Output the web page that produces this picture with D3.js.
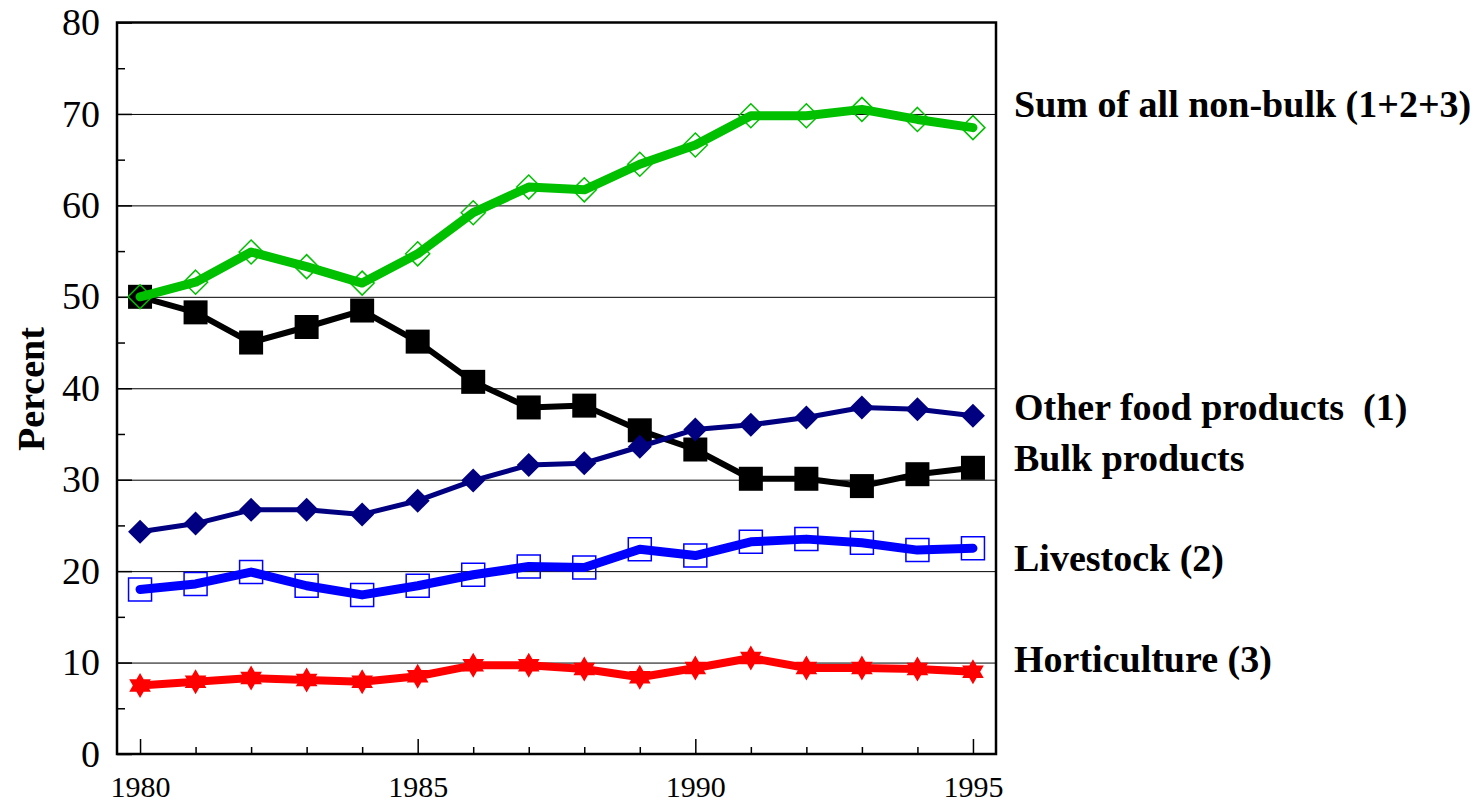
<!DOCTYPE html>
<html>
<head>
<meta charset="utf-8">
<script src="https://cdn.jsdelivr.net/npm/d3@7"></script>
<style>
  body { margin: 0; background: #fff; }
  svg { display: block; font-family: "Liberation Serif", "Times New Roman", serif; }
</style>
</head>
<body>
<svg id="chart" width="1481" height="803"></svg>
<script>
// data
const years = d3.range(1980, 1996);
const sumNonBulk = [50.0, 51.6, 54.9, 53.3, 51.5, 54.7, 59.2, 62.0, 61.7, 64.5, 66.6, 69.8, 69.8, 70.5, 69.4, 68.5];
const bulkProducts = [50.0, 48.3, 45.0, 46.7, 48.5, 45.1, 40.7, 37.9, 38.1, 35.4, 33.3, 30.1, 30.1, 29.3, 30.6, 31.3];
const otherFood = [24.3, 25.2, 26.7, 26.7, 26.2, 27.7, 29.9, 31.6, 31.8, 33.6, 35.5, 36.0, 36.8, 37.9, 37.7, 37.0];
const livestock = [18.0, 18.6, 19.9, 18.4, 17.4, 18.4, 19.6, 20.5, 20.4, 22.4, 21.7, 23.2, 23.5, 23.1, 22.3, 22.5];
const horticulture = [7.5, 7.9, 8.3, 8.1, 7.9, 8.5, 9.7, 9.7, 9.3, 8.4, 9.4, 10.5, 9.4, 9.4, 9.3, 9.0];
const labels = ['Sum of all non-bulk (1+2+3)', 'Other food products  (1)', 'Bulk products', 'Livestock (2)', 'Horticulture (3)'];
const yTicks = d3.range(0, 81, 10);
const yMinorTicks = d3.range(5, 80, 10);
const xMajorTicks = [1980, 1985, 1990, 1995];

const frame = { left: 117, right: 996, top: 22.5, bottom: 754 };

const svg = d3.select('#chart');

const x = d3.scaleLinear()
  .domain([1979.585, 1995.415])
  .range([frame.left, frame.right]);
const y = d3.scaleLinear()
  .domain([0, 80])
  .range([frame.bottom, frame.top]);

const plotW = frame.right - frame.left;

// grid lines
svg.append('g')
  .attr('transform', `translate(${frame.left},0)`)
  .call(d3.axisLeft(y).tickValues(d3.range(10, 80, 10)).tickSize(-plotW).tickFormat(''))
  .call(g => g.select('.domain').remove())
  .call(g => g.selectAll('line').attr('stroke', '#000').attr('stroke-width', 1));

// y minor ticks
svg.append('g')
  .attr('transform', `translate(${frame.left},0)`)
  .call(d3.axisLeft(y).tickValues(yMinorTicks).tickSize(-8).tickFormat(''))
  .call(g => g.select('.domain').remove())
  .call(g => g.selectAll('line').attr('stroke', '#000').attr('stroke-width', 1.5));

// y major ticks + labels
svg.append('g')
  .attr('transform', `translate(${frame.left},0)`)
  .call(d3.axisLeft(y).tickValues(yTicks).tickSize(-15).tickPadding(17))
  .call(g => g.select('.domain').remove())
  .call(g => g.selectAll('line').attr('stroke', '#000').attr('stroke-width', 1.5))
  .call(g => g.selectAll('text')
    .attr('font-family', '"Liberation Serif", serif')
    .attr('font-size', 38)
    .attr('fill', '#000'));

// x minor ticks
svg.append('g')
  .attr('transform', `translate(0,${frame.bottom})`)
  .call(d3.axisBottom(x).tickValues(years.filter(v => !xMajorTicks.includes(v))).tickSize(-7).tickFormat(''))
  .call(g => g.select('.domain').remove())
  .call(g => g.selectAll('line').attr('stroke', '#000').attr('stroke-width', 1.5));

// x major ticks + labels
svg.append('g')
  .attr('transform', `translate(0,${frame.bottom})`)
  .call(d3.axisBottom(x).tickValues(xMajorTicks).tickSize(-15).tickFormat(d3.format('d')))
  .call(g => g.select('.domain').remove())
  .call(g => g.selectAll('line').attr('stroke', '#000').attr('stroke-width', 1.5))
  .call(g => g.selectAll('text')
    .attr('y', 43)
    .attr('dy', null)
    .attr('font-family', '"Liberation Serif", serif')
    .attr('font-size', 30)
    .attr('fill', '#000'));

// frame
svg.append('rect')
  .attr('x', frame.left)
  .attr('y', frame.top)
  .attr('width', plotW)
  .attr('height', frame.bottom - frame.top)
  .attr('fill', 'none')
  .attr('stroke', '#000')
  .attr('stroke-width', 2.5);

// marker shapes
function hexagram(R) {
  const r = R / Math.sqrt(3);
  const pts = [];
  for (let k = 0; k < 12; k++) {
    const a = (-90 + k * 30) * Math.PI / 180;
    const rad = k % 2 === 0 ? R : r;
    pts.push([rad * Math.cos(a), rad * Math.sin(a)]);
  }
  return d3.line()(pts) + 'Z';
}
function diamond(h) {
  return d3.line()([[0, -h], [h, 0], [0, h], [-h, 0]]) + 'Z';
}
function square(s) {
  return d3.line()([[-s, -s], [s, -s], [s, s], [-s, s]]) + 'Z';
}

const series = [
  { values: bulkProducts, color: '#000000', width: 6, marker: square(12), fill: '#000000', mstroke: 'none' },
  { values: otherFood, color: '#000080', width: 5, marker: diamond(12), fill: '#000080', mstroke: 'none' },
  { values: livestock, color: '#0000ff', width: 9, marker: square(11.5), fill: 'none', mstroke: '#0000ff' },
  { values: horticulture, color: '#ff0000', width: 8, marker: hexagram(12.5), fill: '#ff0000', mstroke: 'none' },
  { values: sumNonBulk, color: '#00c000', width: 9, marker: diamond(12), fill: 'none', mstroke: '#00c000' },
];

const line = d3.line()
  .x((d, i) => x(years[i]))
  .y(d => y(d));

series.forEach(s => {
  const g = svg.append('g');
  g.append('path')
    .datum(s.values)
    .attr('d', line)
    .attr('fill', 'none')
    .attr('stroke', s.color)
    .attr('stroke-width', s.width)
    .attr('stroke-linejoin', 'round')
    .attr('stroke-linecap', 'round');
  g.selectAll('path.m')
    .data(s.values)
    .enter().append('path')
    .attr('class', 'm')
    .attr('transform', (d, i) => `translate(${x(years[i])},${y(d)})`)
    .attr('d', s.marker)
    .attr('fill', s.fill)
    .attr('stroke', s.mstroke)
    .attr('stroke-width', 1.5);
});

// series labels on the right
const labelY = [117, 420, 471, 571, 672];
svg.append('g')
  .selectAll('text')
  .data(labels)
  .enter().append('text')
  .attr('x', 1014)
  .attr('y', (d, i) => labelY[i])
  .attr('font-size', 38)
  .attr('font-weight', 'bold')
  .style('white-space', 'pre')
  .attr('xml:space', 'preserve')
  .text(d => d);

// y title
svg.append('text')
  .attr('transform', `translate(44,389) rotate(-90)`)
  .attr('text-anchor', 'middle')
  .attr('font-size', 38)
  .attr('font-weight', 'bold')
  .text('Percent');
</script>
</body>
</html>
